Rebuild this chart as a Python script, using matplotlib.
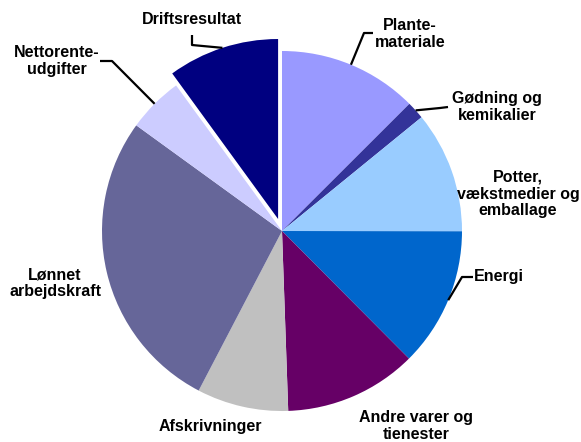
import numpy as np
import matplotlib.pyplot as plt

# share of costs (percent), clockwise from 12 o'clock
labels = ['Plante-\nmateriale', 'Gødning og\nkemikalier', 'Potter,\nvækstmedier og\nemballage',
          'Energi', 'Andre varer og\ntienester', 'Afskrivninger', 'Lønnet\narbejdskraft',
          'Nettorente-\nudgifter', 'Driftsresultat']
values = [12.5, 1.6, 10.9, 12.5, 11.9, 8.2, 27.3, 5.0, 10.0]
colors = ['#9999FF', '#333399', '#99CCFF', '#0066CC', '#660066', '#C0C0C0', '#666699',
          '#CCCCFF', '#000080']
explode_frac = [0, 0, 0, 0, 0, 0, 0, 0, 0.07]

W, H = 581, 442
fig = plt.figure(figsize=(W / 100, H / 100), dpi=100)
ax = fig.add_axes([0, 0, 1, 1])

cx, cy, R = 282, H - 231, 180
# explode is in data units when a radius is given
wedges, _ = ax.pie(values, colors=colors, explode=[e * R for e in explode_frac],
                   startangle=90, counterclock=False,
                   center=(cx, cy), radius=R, wedgeprops=dict(linewidth=0))
ax.set_xlim(0, W)
ax.set_ylim(0, H)
ax.set_aspect('equal')
ax.axis('off')

# label centres (pixels from top-left)
label_pos = [(410, 34), (497, 107), (518, 194), (499, 277), (416, 426), (210, 426),
             (55, 283), (57, 61), (192, 20)]
# leader elbows: (start, elbow) in pixels, end computed on the wedge
leaders = {0: [(373, 33), (364, 33)],
           1: [(448, 107), (440, 108)],
           3: [(473, 277), (462, 277)],
           7: [(100, 61), (112, 61)],
           8: [(192, 35), (192, 45)]}

for i, (lab, (px, py)) in enumerate(zip(labels, label_pos)):
    ax.text(px, H - py, lab, ha='center', va='center', fontsize=11.5, fontweight='bold',
            family='Liberation Sans', linespacing=1.15, color='black')
    if i in leaders:
        w = wedges[i]
        mid = np.deg2rad((w.theta1 + w.theta2) / 2)
        wx, wy = w.center
        ex = wx + w.r * np.cos(mid)
        ey = wy + w.r * np.sin(mid)
        pts = [(x, H - y) for x, y in leaders[i]] + [(ex, ey)]
        xs, ys = zip(*pts)
        ax.plot(xs, ys, color='black', lw=1.6, solid_capstyle='butt')

fig.savefig('out.png', dpi=100)
